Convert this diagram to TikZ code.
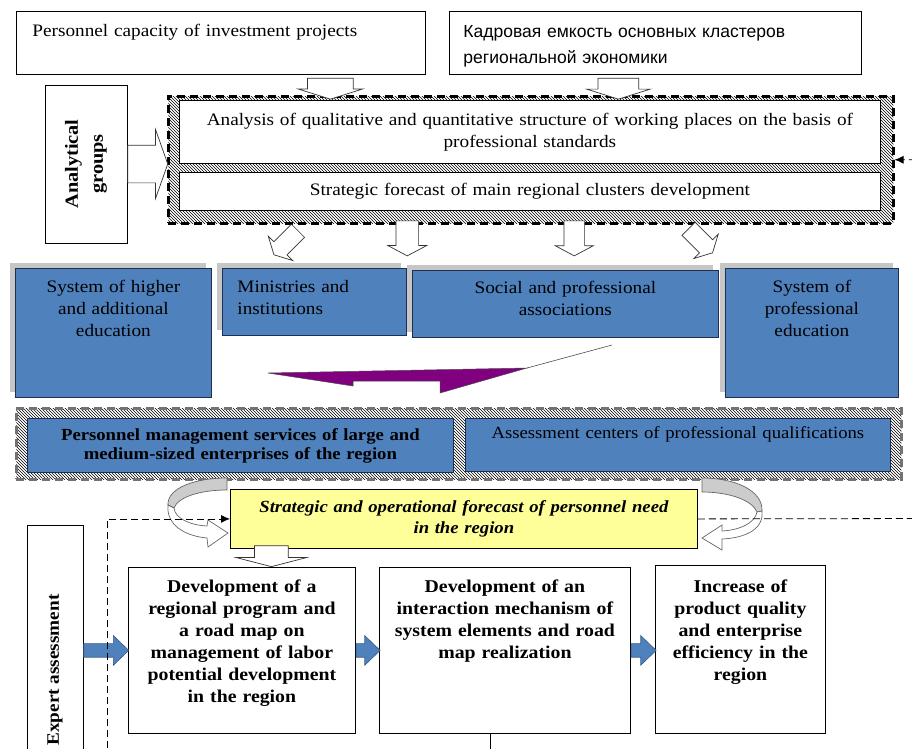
\documentclass[tikz,border=0pt]{standalone}
\usepackage{fontspec}
\setmainfont{Liberation Serif}[FakeStretch=1.1]
\newfontfamily\rusfont{Liberation Sans}
\usetikzlibrary{positioning, arrows.meta, shapes.arrows, patterns, shadows}

\definecolor{boxblue}{HTML}{4F81BD}
\definecolor{boxedge}{HTML}{1F2F4F}
\definecolor{notepad}{HTML}{FFFF99}
\definecolor{bentviolet}{HTML}{800080}

\tikzset{
  plain/.style={draw=black, line width=0.8pt, fill=white, rectangle, inner sep=0pt, anchor=north west},
  bluebox/.style={draw=boxedge, line width=0.8pt, fill=boxblue, rectangle, inner sep=0pt, anchor=north west},
  shadowed/.style={general shadow={fill=gray!45, shadow xshift=-5pt, shadow yshift=5pt}},
  hatchframe/.style={pattern=north west lines, rectangle, inner sep=0pt, anchor=north west, line width=2.5pt, dash pattern=on 8pt off 5pt},
  openarrow/.style={single arrow, draw=black!80, line width=0.7pt, fill=white, minimum width=0pt, inner xsep=0pt},
  bluearrow/.style={single arrow, draw=boxblue!70!black, line width=0.6pt, fill=boxblue, minimum width=0pt, inner xsep=0pt, inner ysep=6.5pt, single arrow head extend=8pt, single arrow tip angle=88, anchor=tail},
  curl/.style={draw=black!60, line width=0.7pt},
  txt/.style={font=\fontsize{17.5}{22}\selectfont},
  boldtxt/.style={font=\bfseries\fontsize{18}{22}\selectfont},
}

\begin{document}
\begin{tikzpicture}[x=1pt, y=-1pt]
\useasboundingbox (0,0) rectangle (912,748);

% sources
\node[plain, txt, inner xsep=16pt, text width=377pt, align=left, text height=25pt, text depth=38pt] (cap) at (16,11) {Personnel capacity of investment projects};
\node[plain, font=\rusfont\fontsize{17.5}{26}\selectfont, inner xsep=14pt, text width=384pt, align=left, text height=26pt, text depth=37pt] (rus) at (449,11) {Кадровая емкость основных кластеров\\региональной экономики};
\node[plain, font=\bfseries\fontsize{18.5}{25}\selectfont, rotate=90, minimum width=158pt, minimum height=82pt, align=center, anchor=center] (ana) at (86,164) {Analytical\\groups};

% analysis block
\node[hatchframe, draw=black, minimum width=725pt, minimum height=127pt] (frame1) at (167,95) {};
\node[plain, txt, minimum width=701pt, minimum height=63pt, text width=701pt, align=center] (quality) at (179,100) {Analysis of qualitative and quantitative structure of working places on the basis of\\professional standards};
\node[plain, txt, minimum width=701pt, minimum height=38pt, text width=701pt, align=center] (clusters) at (179,172) {Strategic forecast of main regional clusters development};

\node[openarrow, inner ysep=22.5pt, single arrow head extend=9.5pt, single arrow tip angle=145, minimum height=21pt, rotate=-90, anchor=tail] (capin) at ([xshift=109.5pt, yshift=-3pt]cap.south) {};
\node[openarrow, inner ysep=20pt, single arrow head extend=11.5pt, single arrow tip angle=145, minimum height=21pt, rotate=-90, anchor=tail] (rusin) at ([xshift=-37pt, yshift=-3pt]rus.south) {};
\node[openarrow, inner ysep=18.5pt, single arrow head extend=15.5pt, single arrow tip angle=141, minimum height=40pt, anchor=tail] (anain) at (ana.south) {};

\node[openarrow, inner ysep=9pt, single arrow head extend=8pt, single arrow tip angle=124, minimum height=34pt, rotate=225, anchor=tail] (out1) at ([xshift=-232.5pt, yshift=-6pt]frame1.south) {};
\node[openarrow, inner ysep=11pt, single arrow head extend=8pt, single arrow tip angle=124, minimum height=35pt, rotate=-90, anchor=tail] (out2) at ([xshift=-123.5pt, yshift=4pt]frame1.south) {};
\node[openarrow, inner ysep=10pt, single arrow head extend=8.5pt, single arrow tip angle=124, minimum height=35pt, rotate=-90, anchor=tail] (out3) at ([xshift=43.5pt, yshift=4pt]frame1.south) {};
\node[openarrow, inner ysep=9pt, single arrow head extend=8pt, single arrow tip angle=124, minimum height=34pt, rotate=-45, anchor=tail] (out4) at ([xshift=157.5pt, yshift=-4pt]frame1.south) {};

% participants
\node[bluebox, shadowed, txt, minimum width=196pt, text width=196pt, align=center, text height=24pt, text depth=105pt] (higher) at (15,268) {System of higher\\and additional\\education};
\node[bluebox, shadowed, txt, inner xsep=15pt, text width=154pt, align=left, text height=24pt, text depth=43pt] (minist) at (222,268) {Ministries and\\institutions};
\node[bluebox, shadowed, txt, minimum width=306pt, text width=306pt, align=center, text height=23pt, text depth=44pt] (assoc) at (412,270) {Social and professional\\associations};
\node[bluebox, shadowed, txt, minimum width=173pt, text width=173pt, align=center, text height=24pt, text depth=105pt] (proff) at (725,268) {System of\\professional\\education};

\filldraw[fill=bentviolet, draw=black!70, line width=0.5pt] (268,373) -- (353,386) -- (353,381) -- (440,381) -- (440,393) -- (527,368) -- cycle;
\draw[black!70, line width=0.6pt] (527,368) -- (612,345);

% enterprises
\node[hatchframe, draw=black!55, minimum width=885pt, minimum height=71pt] (frame2) at (15,407) {};
\node[bluebox, font=\bfseries\fontsize{17}{19}\selectfont, minimum width=426pt, minimum height=54pt, text width=426pt, align=center] (services) at (27,418) {Personnel management services of large and\\medium-sized enterprises of the region};
\node[bluebox, font=\fontsize{17}{20}\selectfont, minimum width=425pt, text width=425pt, align=center, text height=20pt, text depth=33pt] (centers) at (465,418) {Assessment centers of professional qualifications};

\begin{scope}[shift={(227,478)}]
\filldraw[curl, fill=gray!40] (0,0) -- (0,12) .. controls (-27,12) and (-49,19) .. (-53,30) -- (-59,27) .. controls (-60,10) and (-32,0) .. (0,0) -- cycle;
\filldraw[curl, fill=white] (-59,27) .. controls (-61,47) and (-42,58) .. (-20,60) -- (-19,69) -- (1,55) -- (-19,42) -- (-20,48) .. controls (-38,47) and (-52,40) .. (-53,30) -- cycle;
\end{scope}
\begin{scope}[shift={(702,478)}, xscale=-1]
\filldraw[curl, fill=gray!40] (0,0) -- (0,14) .. controls (-27,14) and (-50,22) .. (-55,34) -- (-60,33) .. controls (-61,12) and (-32,0) .. (0,0) -- cycle;
\filldraw[curl, fill=white] (-60,33) .. controls (-62,52) and (-42,60) .. (-20,61) -- (-20,72) -- (0,60) -- (-20,47) -- (-20,53) .. controls (-38,52) and (-53,45) .. (-55,34) -- cycle;
\end{scope}

\node[plain, fill=notepad, font=\bfseries\itshape\fontsize{17}{21}\selectfont, minimum width=467pt, minimum height=59pt, text width=467pt, align=center] (need) at (230,489) {Strategic and operational forecast of personnel need\\in the region};

% programme
\node[plain, font=\bfseries\fontsize{17.5}{22}\selectfont, rotate=90, minimum width=290pt, minimum height=56pt, anchor=center] (expert) at (55,670) {Expert assessment};
\node[plain, boldtxt, minimum width=227pt, text width=227pt, align=center, text height=25pt, text depth=141pt] (d1) at (128,567) {Development of a\\regional program and\\a road map on\\management of labor\\potential development\\in the region};
\node[plain, boldtxt, minimum width=251pt, text width=251pt, align=center, text height=25pt, text depth=141pt] (d2) at (379,567) {Development of an\\interaction mechanism of\\system elements and road\\map realization};
\node[plain, boldtxt, minimum width=170pt, text width=170pt, align=center, text height=27pt, text depth=141pt] (d3) at (655,565) {Increase of\\product quality\\and enterprise\\efficiency in the\\region};

\node[openarrow, inner ysep=16.5pt, single arrow head extend=18.5pt, single arrow tip angle=151, minimum height=21pt, rotate=-90, anchor=tip] (needout) at ([xshift=29.5pt]d1.north) {};

\node[bluearrow, minimum height=45pt] (exp1) at (expert.south |- d1.west) {};
\node[bluearrow, minimum height=24pt] (go12) at (d1.east) {};
\node[bluearrow, minimum height=25pt] (go23) at (d2.east) {};

\coordinate (leftfoot) at (107,770);
\coordinate (rightturn) at (930,518.5);
\draw[dash pattern=on 7pt off 4pt, line width=0.8pt, -{Latex[length=9pt, width=8pt]}] (leftfoot) |- (need.west);
\draw[dash pattern=on 7pt off 4pt, line width=0.8pt, -{Latex[length=9pt, width=8pt]}] (need.east) -- (rightturn) |- (frame1.east);
\draw[line width=0.8pt] ([xshift=-14.5pt]d2.south) -- ++(0,25);
\end{tikzpicture}
\end{document}
